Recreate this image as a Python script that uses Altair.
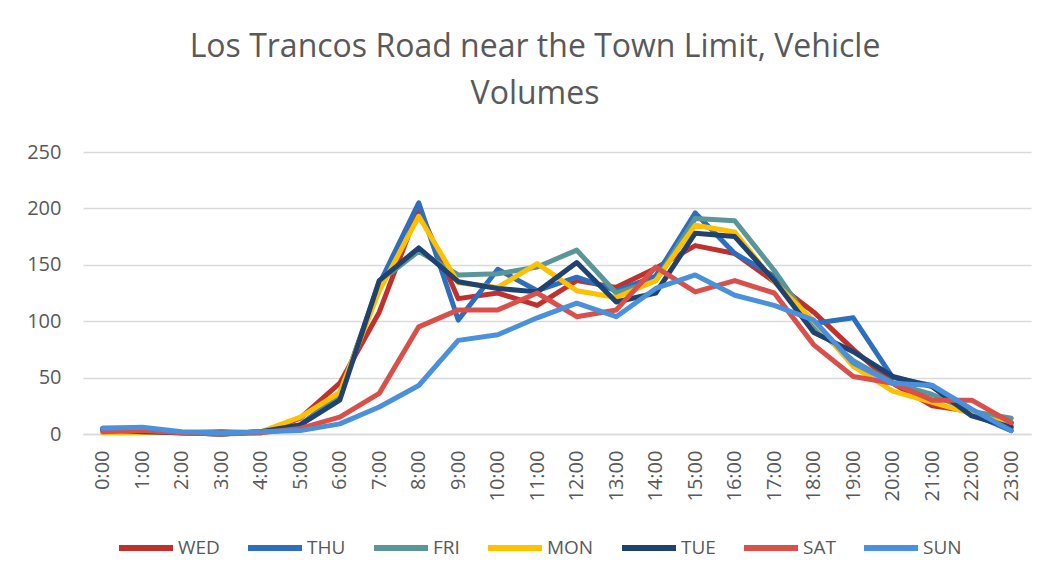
import altair as alt
import pandas as pd

hours = [f"{h}:00" for h in range(24)]
series_names = ["WED", "THU", "FRI", "MON", "TUE", "SAT", "SUN"]
series_colors = ["#C0312D", "#2E6EBE", "#5A9598", "#FFC000", "#1F4270", "#D9504B", "#4A90DB"]

wed = [3, 2, 1, 2, 1, 14, 45, 108, 200, 120, 125, 114, 136, 130, 147, 167, 160, 135, 108, 75, 45, 25, 20, 10]
thu = [5, 5, 1, 0, 2, 8, 35, 133, 205, 101, 146, 127, 139, 127, 140, 196, 160, 140, 98, 103, 50, 43, 18, 3]
fri = [3, 2, 1, 0, 2, 8, 33, 135, 162, 141, 142, 148, 163, 125, 136, 191, 189, 145, 95, 65, 45, 35, 20, 14]
mon = [1, 1, 1, 0, 2, 15, 37, 127, 193, 134, 130, 151, 127, 121, 136, 185, 179, 135, 100, 60, 38, 28, 18, 8]
tue = [4, 2, 1, 0, 2, 8, 30, 136, 165, 135, 129, 126, 152, 117, 125, 178, 175, 136, 90, 73, 51, 42, 16, 6]
sat = [2, 3, 1, 0, 1, 5, 15, 36, 95, 110, 110, 125, 104, 110, 148, 126, 136, 125, 79, 51, 45, 30, 30, 10]
sun = [5, 6, 2, 1, 2, 3, 9, 24, 43, 83, 88, 103, 116, 104, 129, 141, 123, 114, 101, 63, 45, 43, 22, 3]

values = [wed, thu, fri, mon, tue, sat, sun]

rows = []
for si, (name, vals) in enumerate(zip(series_names, values)):
    for hi, (h, v) in enumerate(zip(hours, vals)):
        rows.append({"hour": h, "hi": hi, "series": name, "si": si, "value": v})
df = pd.DataFrame(rows)

color_scale = alt.Scale(domain=series_names, range=series_colors)

x_enc = alt.X("hour:O", sort=hours,
              scale=alt.Scale(type="point", padding=0.5),
              axis=alt.Axis(title=None, labelAngle=270, labelFontSize=20, labelColor="#595959",
                            labelFont="Open Sans", labelPadding=16, ticks=False,
                            domainColor="#D9D9D9", domainWidth=1.5, grid=False))
y_enc = alt.Y("value:Q", scale=alt.Scale(domain=[0, 250], nice=False),
              axis=alt.Axis(title=None, values=[0, 50, 100, 150, 200, 250], labelFontSize=20,
                            labelColor="#595959", labelFont="Open Sans", labelPadding=22,
                            ticks=False, domain=False, gridColor="#D9D9D9", gridWidth=1.5))

layers = []
for si, name in enumerate(series_names):
    layers.append(
        alt.Chart(df).transform_filter(alt.datum.series == name).mark_line(
            strokeWidth=5, strokeJoin="round", strokeCap="round"
        ).encode(
            x=x_enc,
            y=y_enc,
            color=alt.Color("series:N", scale=color_scale, sort=series_names,
                            legend=alt.Legend(title=None, orient="none", legendX=33, legendY=366,
                                              direction="horizontal", symbolType="stroke",
                                              symbolSize=2916, symbolStrokeWidth=6,
                                              labelFontSize=19, labelColor="#595959",
                                              labelFont="Open Sans", labelOffset=2,
                                              columnPadding=16, columns=7)),
            order="hi:O",
        )
    )

chart = alt.layer(*layers).properties(
    width=948,
    height=282,
    autosize=alt.AutoSizeParams(type="none"),
    padding={"left": 75, "top": 144, "right": 12, "bottom": 140},
    title=alt.TitleParams(
        text=["Los Trancos Road near the Town Limit, Vehicle", "Volumes"],
        fontSize=32, font="Open Sans", fontWeight="normal", color="#595959",
        anchor="middle", lineHeight=47, offset=31, dx=-22,
    ),
).configure_view(stroke=None)

chart.save("out.html", embed_options={"renderer": "svg", "actions": False})
